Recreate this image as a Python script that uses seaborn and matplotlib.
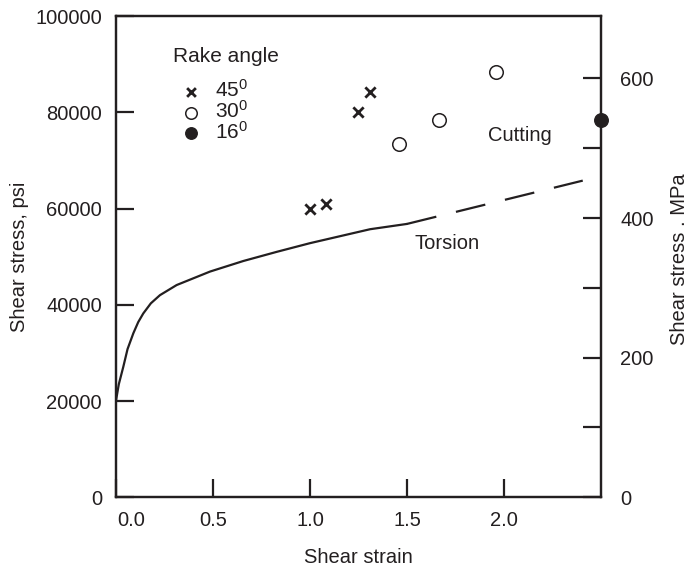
import matplotlib
matplotlib.use("Agg")
import matplotlib.pyplot as plt
import matplotlib.transforms as mtransforms
import seaborn as sns

# Torsion test curve (shear strain, shear stress in psi)
torsion_strain = [0.0, 0.015, 0.038, 0.06, 0.09, 0.115, 0.141, 0.18, 0.227, 0.313,
                  0.485, 0.657, 0.829, 1.0, 1.31, 1.5]
torsion_stress = [20000, 23500, 27100, 30800, 34100, 36400, 38200, 40300, 42000, 44100,
                  46900, 49100, 51000, 52800, 55700, 56800]
# Extrapolated part of the torsion curve (dashed)
torsion_ext_strain = [1.5, 2.406]
torsion_ext_stress = [56800, 65800]

# Cutting data by rake angle
rake45_strain = [1.002, 1.083, 1.250, 1.310]
rake45_stress = [60000, 60950, 80130, 84280]
rake30_strain = [1.459, 1.665, 1.958]
rake30_stress = [73410, 78400, 88440]
rake16_strain = [2.5]
rake16_stress = [78400]

rake_labels = ["45$^0$", "30$^0$", "16$^0$"]

x_ticks = [0.0, 0.5, 1.0, 1.5, 2.0]
x_tick_labels = ["0.0", "0.5", "1.0", "1.5", "2.0"]
psi_ticks = [0, 20000, 40000, 60000, 80000, 100000]
mpa_major = [0, 200, 400, 600]
mpa_minor = [100, 300, 500]
PSI_PER_MPA = 145.038

sns.set_style("ticks")
plt.rcParams["font.family"] = ["Liberation Sans", "DejaVu Sans"]
plt.rcParams["mathtext.default"] = "regular"

ink = "#231f20"
fs = 14.5

fig = plt.figure(figsize=(6.92, 5.66), dpi=100)
ax = fig.add_axes([0.1675, 0.1214, 0.7010, 0.8503])

sns.lineplot(x=torsion_strain, y=torsion_stress, ax=ax, color=ink, lw=1.6,
             sort=False, estimator=None)
sns.lineplot(x=torsion_ext_strain, y=torsion_ext_stress, ax=ax, color=ink, lw=1.6,
             sort=False, estimator=None, linestyle=(0, (13.6, 9.1)))

sns.scatterplot(x=rake45_strain, y=rake45_stress, ax=ax, marker="x", s=55,
                color=ink, linewidth=2.0, label=rake_labels[0], zorder=5)
sns.scatterplot(x=rake30_strain, y=rake30_stress, ax=ax, marker="o", s=95,
                facecolor="white", edgecolor=ink, linewidth=1.1,
                label=rake_labels[1], zorder=5)
sns.scatterplot(x=rake16_strain, y=rake16_stress, ax=ax, marker="o", s=95,
                color=ink, edgecolor=ink, linewidth=1.0, label=rake_labels[2],
                zorder=6, clip_on=False)

ax.text(2.083, 75070, "Cutting", ha="center", va="center", fontsize=fs, color=ink)
ax.text(1.705, 52780, "Torsion", ha="center", va="center", fontsize=fs, color=ink)

ax.set_xlim(0, 2.5)
ax.set_ylim(0, 100000)
ax.set_xticks(x_ticks)
ax.set_xticklabels(x_tick_labels)
ax.set_yticks(psi_ticks)
ax.set_yticklabels([str(v) for v in psi_ticks])

for sp in ax.spines.values():
    sp.set_visible(True)
    sp.set_linewidth(1.6)
    sp.set_color(ink)

ax.tick_params(axis="both", direction="in", length=13, width=1.6, color=ink,
               labelsize=fs, labelcolor=ink, pad=10)
ax.tick_params(axis="y", right=False)
ax.tick_params(axis="x", top=False)

# Legend heading and entries
ax.text(0.1175, 0.915, "Rake angle", transform=ax.transAxes, ha="left",
        va="center", fontsize=15, color=ink)
leg = ax.legend(loc="upper left", bbox_to_anchor=(0.1175, 0.8685),
                frameon=False, fontsize=15, borderpad=0, borderaxespad=0,
                handlelength=1.7, handletextpad=0.3, labelspacing=-0.05,
                markerscale=0.85)
for t in leg.get_texts():
    t.set_color(ink)

ax.set_xlabel("Shear strain", fontsize=fs, color=ink)
ax.set_ylabel("Shear stress, psi", fontsize=fs, color=ink)
ax.xaxis.set_label_coords(0.5, -0.105)
ax.yaxis.set_label_coords(-0.18, 0.5)

# Secondary scale in MPa
ax2 = ax.twinx()
ax2.set_ylim(0, 100000 / PSI_PER_MPA)
ax2.set_yticks(mpa_major)
ax2.set_yticklabels([str(v) for v in mpa_major])
ax2.set_yticks(mpa_minor, minor=True)
ax2.tick_params(axis="y", which="both", direction="in", length=13, width=1.6,
                color=ink, labelsize=fs, labelcolor=ink, pad=14)
for sp in ax2.spines.values():
    sp.set_linewidth(1.6)
    sp.set_color(ink)
ax2.set_ylabel("Shear stress . MPa", fontsize=fs, color=ink)
ax2.yaxis.set_label_coords(1.143, 0.495)

# Shift the first strain label off the corner
lbl0 = ax.get_xticklabels()[0]
lbl0.set_transform(lbl0.get_transform() +
                   mtransforms.ScaledTranslation(0.15, 0, fig.dpi_scale_trans))

fig.savefig("out.png", dpi=100)
